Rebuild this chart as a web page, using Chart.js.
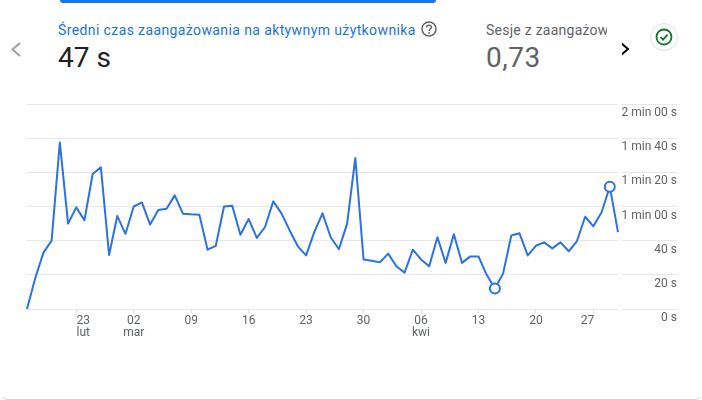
<!DOCTYPE html>
<html>
<head>
<meta charset="utf-8">
<script src="https://cdn.jsdelivr.net/npm/chart.js@4"></script>
<style>
html, body { margin: 0; padding: 0; background: #fff; }
body { width: 702px; height: 400px; overflow: hidden; position: relative; font-family: Roboto, sans-serif; }
#card { position: absolute; left: 0; top: -10px; width: 700px; height: 408px; border-radius: 8px; border: 1px solid transparent; border-bottom-color: #d4d4d4; }
#bar { position: absolute; left: 60px; top: 0; width: 376px; height: 3px; background: #1a73e8; border-radius: 0 0 3px 3px; }
.t { position: absolute; white-space: nowrap; }
#title1 { left: 58px; top: 21px; font-size: 14px; line-height: 18px; color: #1a73e8; letter-spacing: 0.39px; }
#value1 { left: 58px; top: 40px; font-size: 28px; line-height: 36px; color: #202124; }
#title2 { left: 486px; top: 21px; width: 121px; overflow: hidden; font-size: 14px; line-height: 18px; color: #5f6368; letter-spacing: 0.25px; }
#value2 { left: 486px; top: 40px; font-size: 28px; line-height: 36px; color: #5f6368; letter-spacing: 0.5px; }
svg { position: absolute; }
canvas { position: absolute; left: 0; top: 0; }
</style>
</head>
<body>
<div id="card"></div>
<div id="bar"></div>
<div class="t" id="title1">Średni czas zaangażowania na aktywnym użytkownika</div>
<div class="t" id="value1">47 s</div>
<div class="t" id="title2">Sesje z zaangażow</div>
<div class="t" id="value2">0,73</div>
<svg style="left:8px;top:40px" width="16" height="18"><path d="M12 3 L4.5 9.5 L12 16" fill="none" stroke="#9aa0a6" stroke-width="2"/></svg>
<svg style="left:617px;top:40px" width="16" height="18"><path d="M4 3 L11 9 L4 15" fill="none" stroke="#000" stroke-width="2"/></svg>
<svg style="left:420px;top:20px" width="18" height="18"><circle cx="9" cy="9" r="7" fill="none" stroke="#5f6368" stroke-width="1.5"/><path d="M6.6 7.4 C6.6 4.4 11.4 4.4 11.4 7.2 C11.4 9 9 9 9 11" fill="none" stroke="#5f6368" stroke-width="1.4"/><circle cx="9" cy="12.9" r="0.9" fill="#5f6368"/></svg>
<svg style="left:650px;top:23px" width="28" height="28"><circle cx="14" cy="14" r="13.5" fill="#fff" stroke="#e0e0e0"/><circle cx="14" cy="14" r="7.5" fill="none" stroke="#137333" stroke-width="1.8"/><path d="M10.5 14 L13 16.6 L17.6 11.6" fill="none" stroke="#137333" stroke-width="1.8"/></svg>
<canvas id="myChart" width="702" height="400"></canvas>
<script>
var categories = [
    '17 lut','18 lut','19 lut','20 lut','21 lut','22 lut','23 lut','24 lut','25 lut','26 lut','27 lut','28 lut',
    '01 mar','02 mar','03 mar','04 mar','05 mar','06 mar','07 mar','08 mar','09 mar','10 mar','11 mar','12 mar',
    '13 mar','14 mar','15 mar','16 mar','17 mar','18 mar','19 mar','20 mar','21 mar','22 mar','23 mar','24 mar',
    '25 mar','26 mar','27 mar','28 mar','29 mar','30 mar','31 mar',
    '01 kwi','02 kwi','03 kwi','04 kwi','05 kwi','06 kwi','07 kwi','08 kwi','09 kwi','10 kwi','11 kwi','12 kwi',
    '13 kwi','14 kwi','15 kwi','16 kwi','17 kwi','18 kwi','19 kwi','20 kwi','21 kwi','22 kwi','23 kwi','24 kwi',
    '25 kwi','26 kwi','27 kwi','28 kwi','29 kwi','30 kwi'
];
// seconds
var values = [
    0, 18, 33, 40, 97.5, 50, 59.5, 52, 79, 83, 31.6, 54.4,
    44, 60, 62.4, 49.4, 58, 58.7, 66.5, 55.8, 55.4, 55.2, 34.7, 37,
    60, 60.5, 43.5, 52.7, 41.6, 48, 63, 56, 46, 36.7, 31.4, 45,
    56, 42, 35, 50, 88.4, 29, 28.3,
    27.3, 32.4, 25, 21.3, 34.7, 29, 25, 42, 27, 43.7, 27, 30.8,
    30.8, 20, 12, 20.7, 43, 44.3, 31.4, 37, 39, 35.5, 39, 33.8,
    39.8, 54, 48.4, 56.6, 71.6, 45
];
var markedDates = ['15 kwi', '29 kwi'];
var xTickDates = ['23 lut', '02 mar', '09 mar', '16 mar', '23 mar', '30 mar', '06 kwi', '13 kwi', '20 kwi', '27 kwi'];
var xTickLabels = [['23', 'lut'], ['02', 'mar'], '09', '16', '23', '30', ['06', 'kwi'], '13', '20', '27'];
var yTickLabels = ['0 s', '20 s', '40 s', '1 min 00 s', '1 min 20 s', '1 min 40 s', '2 min 00 s'];

var gridColor = '#e8e8e8';
var textColor = '#5f6368';
var blue = '#2a72e5';

// gap in the gridlines between the plot and the value axis,
// and the first and last date labels are nudged inwards like in the original
var chartTweaks = {
    id: 'chartTweaks',
    beforeDraw: function (chart) {
        var items = chart.scales.x.getLabelItems();
        if (!items.nudged) {
            items[0].options.translation[0] += 7;
            items[items.length - 1].options.translation[0] -= 6;
            items.nudged = true;
        }
    },
    beforeDatasetsDraw: function (chart) {
        var c = chart.ctx;
        c.save();
        c.fillStyle = '#fff';
        c.fillRect(chart.chartArea.right, 0, 4, chart.chartArea.bottom + 2);
        c.restore();
    }
};

var ctx = document.getElementById('myChart');
var myChart = new Chart(ctx, {
    type: 'line',
    data: {
        labels: categories,
        datasets: [{
            data: values,
            borderColor: blue,
            borderWidth: 2,
            borderJoinStyle: 'round',
            tension: 0,
            backgroundColor: '#fff',
            pointBackgroundColor: '#fff',
            pointBorderColor: blue,
            pointBorderWidth: 2,
            pointRadius: function (c) {
                return markedDates.indexOf(categories[c.dataIndex]) >= 0 ? 5 : 0;
            }
        }]
    },
    plugins: [chartTweaks],
    options: {
        responsive: false,
        animation: false,
        layout: {
            padding: { left: 27, right: 25, top: 104, bottom: 51 }
        },
        plugins: {
            legend: { display: false },
            title: { display: false },
            tooltip: { enabled: false }
        },
        scales: {
            x: {
                type: 'category',
                offset: false,
                afterBuildTicks: function (s) {
                    s.ticks = s.ticks.filter(function (t) {
                        return xTickDates.indexOf(categories[t.value]) >= 0;
                    });
                },
                afterFit: function (s) { s.height = 40; },
                border: { display: false },
                grid: { drawOnChartArea: false, tickLength: 4, tickColor: '#dcdcdc' },
                ticks: {
                    autoSkip: false,
                    maxRotation: 0,
                    padding: 2,
                    color: textColor,
                    font: { family: 'Roboto', size: 12, lineHeight: 1 },
                    callback: function (v) {
                        return xTickLabels[xTickDates.indexOf(categories[v])];
                    }
                }
            },
            y: {
                position: 'right',
                min: 0,
                max: 120,
                afterFit: function (s) { s.width = 59; },
                border: { display: false },
                grid: { color: gridColor, tickColor: gridColor, tickLength: 59 },
                ticks: {
                    stepSize: 20,
                    autoSkip: false,
                    mirror: true,
                    padding: 59,
                    labelOffset: 9,
                    color: textColor,
                    font: { family: 'Roboto', size: 12 },
                    callback: function (v) { return yTickLabels[v / 20]; }
                }
            }
        }
    }
});
</script>
</body>
</html>
